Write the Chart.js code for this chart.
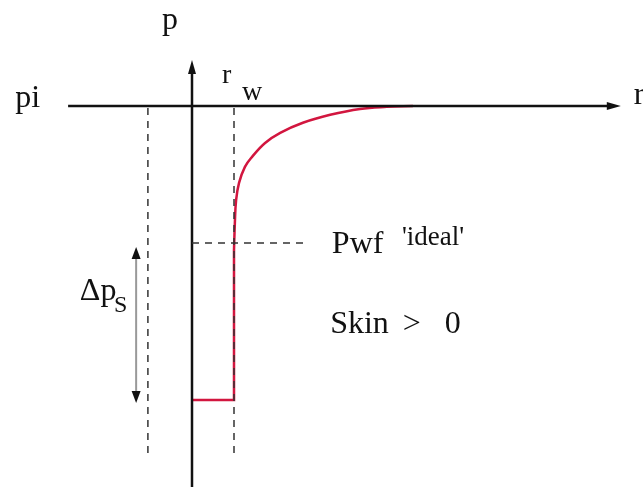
<!DOCTYPE html>
<html>
<head>
<meta charset="utf-8">
<script src="https://cdn.jsdelivr.net/npm/chart.js@4"></script>
<style>
  html, body { margin: 0; padding: 0; background: #fff; }
  #wrap { width: 643px; height: 487px; position: relative; }
</style>
</head>
<body>
<div id="wrap"><canvas id="skinChart"></canvas></div>
<script>
// r in units of r_w, p in arbitrary pressure units (pi = 100)
const pInit = 100;
const pWfIdeal = 67.4;
const pWfSkin = 30;
const rWell = 1;
const rOuterGuide = -1.05;
const rDeltaArrow = -1.33;
const rAxisStart = -2.95;
const rAxisEnd = 10.21;
const pAxisTop = 110.95;
const pAxisBottom = 9.29;
const guideTop = 99.5;
const guideBottom = 16.9;
const idealDashEnd = 2.69;
const deltaTop = 66.4;
const deltaBottom = 29.3;

// step at the sandface (skin zone)
const stepR = [0, 1, 1];
const stepP = [30, 30, 65.7];
// pressure profile outside the well
const curveR = [1, 1.02, 1.05, 1.12, 1.26, 1.43, 1.74, 2.1, 2.64, 3.29, 4.0, 4.64, 5.26];
const curveP = [65.7, 72, 77.6, 81.7, 85.5, 87.9, 91.2, 93.6, 96.0, 97.9, 99.3, 99.8, 100];

const toPts = (xs, ys) => xs.map((x, i) => ({ x: x, y: ys[i] }));

const serif = "'Liberation Serif', 'DejaVu Serif', serif";

const labels = {
  id: "labels",
  afterDatasetsDraw(chart) {
    const ctx = chart.ctx;
    const sx = chart.scales.x;
    const sy = chart.scales.y;
    const X = (v) => sx.getPixelForValue(v);
    const Y = (v) => sy.getPixelForValue(v);

    function head(x, y, dx, dy, len, w, color) {
      ctx.save();
      ctx.fillStyle = color;
      ctx.beginPath();
      ctx.moveTo(x, y);
      ctx.lineTo(x - dx * len - dy * w, y - dy * len + dx * w);
      ctx.lineTo(x - dx * len + dy * w, y - dy * len - dx * w);
      ctx.closePath();
      ctx.fill();
      ctx.restore();
    }
    // axis arrows
    head(X(rAxisEnd), Y(pInit), 1, 0, 14, 4, "#111");
    head(X(0), Y(pAxisTop), 0, -1, 14, 4, "#111");
    // delta p arrows
    head(X(rDeltaArrow), Y(deltaTop), 0, -1, 12, 4.5, "#111");
    head(X(rDeltaArrow), Y(deltaBottom), 0, 1, 12, 4.5, "#111");

    function txt(s, r, p, size) {
      ctx.save();
      ctx.font = size + "px " + serif;
      ctx.fillStyle = "#111";
      ctx.textBaseline = "alphabetic";
      ctx.fillText(s, X(r), Y(p));
      ctx.restore();
    }
    txt("p", -0.714, 118.3, 32);
    txt("pi", -4.21, 99.76, 32);
    txt("r", 0.714, 105.5, 28);
    txt("w", 1.19, 101.4, 28);
    txt("r", 10.52, 100.5, 32);
    txt("Pwf", 3.33, 65, 32);
    txt("'ideal'", 5.0, 66.9, 27);
    txt("Skin", 3.29, 45.95, 32);
    txt(">", 5.02, 45.95, 32);
    txt("0", 6.02, 45.95, 32);
    txt("\u0394p", -2.67, 53.8, 32);
    txt("S", -1.86, 50.95, 24);
  }
};

const dash = [7, 6];

new Chart(document.getElementById("skinChart"), {
  type: "scatter",
  data: {
    datasets: [
      {
        data: toPts([rOuterGuide, rOuterGuide], [guideTop, guideBottom]),
        borderColor: "#333", borderWidth: 1.5, borderDash: dash,
      },
      {
        data: toPts([rWell, rWell], [guideTop, guideBottom]),
        borderColor: "#333", borderWidth: 1.5, borderDash: dash,
      },
      {
        data: toPts([0, idealDashEnd], [pWfIdeal, pWfIdeal]),
        borderColor: "#333", borderWidth: 1.5, borderDash: dash,
      },
      {
        data: toPts([rDeltaArrow, rDeltaArrow], [deltaTop - 2.6, deltaBottom + 2.6]),
        borderColor: "#999", borderWidth: 2,
      },
      {
        data: toPts([rAxisStart, rAxisEnd - 0.2], [pInit, pInit]),
        borderColor: "#111", borderWidth: 2.5,
      },
      {
        data: toPts([0, 0], [pAxisBottom, pAxisTop - 2]),
        borderColor: "#111", borderWidth: 2.5,
      },
      {
        data: toPts(stepR, stepP),
        borderColor: "#d2163f", borderWidth: 2.5, tension: 0,
      },
      {
        data: toPts(curveR, curveP),
        borderColor: "#d2163f", borderWidth: 2.5, tension: 0.4,
      },
    ].map((d) => Object.assign({ showLine: true, pointRadius: 0, fill: false }, d)),
  },
  options: {
    responsive: true,
    maintainAspectRatio: false,
    animation: false,
    layout: { padding: 0 },
    scales: {
      x: { type: "linear", display: false, min: -192 / 42, max: 451 / 42 },
      y: { type: "linear", display: false, min: 100 - 381 / 4.2, max: 100 + 106 / 4.2 },
    },
    plugins: {
      legend: { display: false },
      tooltip: { enabled: false },
    },
  },
  plugins: [labels],
});
</script>
</body>
</html>
